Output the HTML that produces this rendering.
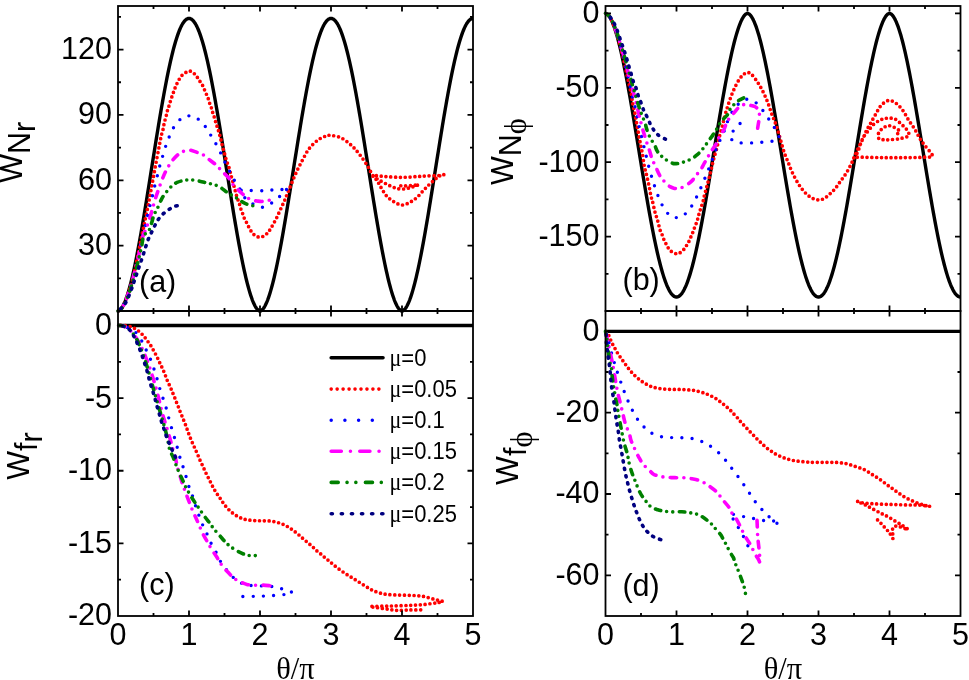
<!DOCTYPE html>
<html><head><meta charset="utf-8"><style>
html,body{margin:0;padding:0;background:#fff;width:969px;height:680px;overflow:hidden}
svg{display:block;font-family:"Liberation Sans",sans-serif;will-change:transform}
</style></head><body>
<svg width="969" height="680" viewBox="0 0 969 680" font-family="Liberation Sans, sans-serif" font-size="30.5">
<rect width="969" height="680" fill="#fff"/>
<defs><clipPath id="ca"><rect x="118" y="6" width="355" height="305"/></clipPath><clipPath id="cb"><rect x="605.5" y="6" width="355" height="305"/></clipPath></defs>
<path d="M118,311 L118.71,310.86 L119.42,310.5 L120.13,309.94 L120.84,309.2 L121.55,308.29 L122.26,307.22 L122.97,305.98 L123.68,304.59 L124.39,303.05 L125.1,301.37 L125.81,299.54 L126.52,297.57 L127.23,295.47 L127.94,293.24 L128.65,290.88 L129.36,288.39 L130.07,285.79 L130.78,283.07 L131.49,280.23 L132.2,277.29 L132.91,274.23 L133.62,271.08 L134.33,267.83 L135.04,264.48 L135.75,261.03 L136.46,257.5 L137.17,253.89 L137.88,250.19 L138.59,246.42 L139.3,242.58 L140.01,238.66 L140.72,234.68 L141.43,230.64 L142.14,226.54 L142.85,222.38 L143.56,218.18 L144.27,213.93 L144.98,209.64 L145.69,205.31 L146.4,200.94 L147.11,196.55 L147.82,192.14 L148.53,187.7 L149.24,183.24 L149.95,178.77 L150.66,174.29 L151.37,169.81 L152.08,165.32 L152.79,160.84 L153.5,156.37 L154.21,151.9 L154.92,147.46 L155.63,143.03 L156.34,138.62 L157.05,134.25 L157.76,129.9 L158.47,125.59 L159.18,121.31 L159.89,117.08 L160.6,112.9 L161.31,108.76 L162.02,104.68 L162.73,100.66 L163.44,96.7 L164.15,92.8 L164.86,88.97 L165.57,85.21 L166.28,81.53 L166.99,77.92 L167.7,74.39 L168.41,70.95 L169.12,67.6 L169.83,64.33 L170.54,61.16 L171.25,58.08 L171.96,55.1 L172.67,52.23 L173.38,49.45 L174.09,46.78 L174.8,44.22 L175.51,41.77 L176.22,39.44 L176.93,37.21 L177.64,35.11 L178.35,33.12 L179.06,31.25 L179.77,29.51 L180.48,27.88 L181.19,26.38 L181.9,25.01 L182.61,23.77 L183.32,22.65 L184.03,21.66 L184.74,20.8 L185.45,20.08 L186.16,19.48 L186.87,19.02 L187.58,18.68 L188.29,18.48 L189,18.42 L189.71,18.48 L190.42,18.68 L191.13,19.02 L191.84,19.48 L192.55,20.08 L193.26,20.8 L193.97,21.66 L194.68,22.65 L195.39,23.77 L196.1,25.01 L196.81,26.38 L197.52,27.88 L198.23,29.51 L198.94,31.25 L199.65,33.12 L200.36,35.11 L201.07,37.21 L201.78,39.44 L202.49,41.77 L203.2,44.22 L203.91,46.78 L204.62,49.45 L205.33,52.23 L206.04,55.1 L206.75,58.08 L207.46,61.16 L208.17,64.33 L208.88,67.6 L209.59,70.95 L210.3,74.39 L211.01,77.92 L211.72,81.53 L212.43,85.21 L213.14,88.97 L213.85,92.8 L214.56,96.7 L215.27,100.66 L215.98,104.68 L216.69,108.76 L217.4,112.9 L218.11,117.08 L218.82,121.31 L219.53,125.59 L220.24,129.9 L220.95,134.25 L221.66,138.62 L222.37,143.03 L223.08,147.46 L223.79,151.9 L224.5,156.37 L225.21,160.84 L225.92,165.32 L226.63,169.81 L227.34,174.29 L228.05,178.77 L228.76,183.24 L229.47,187.7 L230.18,192.14 L230.89,196.55 L231.6,200.94 L232.31,205.31 L233.02,209.64 L233.73,213.93 L234.44,218.18 L235.15,222.38 L235.86,226.54 L236.57,230.64 L237.28,234.68 L237.99,238.66 L238.7,242.58 L239.41,246.42 L240.12,250.19 L240.83,253.89 L241.54,257.5 L242.25,261.03 L242.96,264.48 L243.67,267.83 L244.38,271.08 L245.09,274.23 L245.8,277.29 L246.51,280.23 L247.22,283.07 L247.93,285.79 L248.64,288.39 L249.35,290.88 L250.06,293.24 L250.77,295.47 L251.48,297.57 L252.19,299.54 L252.9,301.37 L253.61,303.05 L254.32,304.59 L255.03,305.98 L255.74,307.22 L256.45,308.29 L257.16,309.2 L257.87,309.94 L258.58,310.5 L259.29,310.86 L260,311 L260.71,310.86 L261.42,310.5 L262.13,309.94 L262.84,309.2 L263.55,308.29 L264.26,307.22 L264.97,305.98 L265.68,304.59 L266.39,303.05 L267.1,301.37 L267.81,299.54 L268.52,297.57 L269.23,295.47 L269.94,293.24 L270.65,290.88 L271.36,288.39 L272.07,285.79 L272.78,283.07 L273.49,280.23 L274.2,277.29 L274.91,274.23 L275.62,271.08 L276.33,267.83 L277.04,264.48 L277.75,261.03 L278.46,257.5 L279.17,253.89 L279.88,250.19 L280.59,246.42 L281.3,242.58 L282.01,238.66 L282.72,234.68 L283.43,230.64 L284.14,226.54 L284.85,222.38 L285.56,218.18 L286.27,213.93 L286.98,209.64 L287.69,205.31 L288.4,200.94 L289.11,196.55 L289.82,192.14 L290.53,187.7 L291.24,183.24 L291.95,178.77 L292.66,174.29 L293.37,169.81 L294.08,165.32 L294.79,160.84 L295.5,156.37 L296.21,151.9 L296.92,147.46 L297.63,143.03 L298.34,138.62 L299.05,134.25 L299.76,129.9 L300.47,125.59 L301.18,121.31 L301.89,117.08 L302.6,112.9 L303.31,108.76 L304.02,104.68 L304.73,100.66 L305.44,96.7 L306.15,92.8 L306.86,88.97 L307.57,85.21 L308.28,81.53 L308.99,77.92 L309.7,74.39 L310.41,70.95 L311.12,67.6 L311.83,64.33 L312.54,61.16 L313.25,58.08 L313.96,55.1 L314.67,52.23 L315.38,49.45 L316.09,46.78 L316.8,44.22 L317.51,41.77 L318.22,39.44 L318.93,37.21 L319.64,35.11 L320.35,33.12 L321.06,31.25 L321.77,29.51 L322.48,27.88 L323.19,26.38 L323.9,25.01 L324.61,23.77 L325.32,22.65 L326.03,21.66 L326.74,20.8 L327.45,20.08 L328.16,19.48 L328.87,19.02 L329.58,18.68 L330.29,18.48 L331,18.42 L331.71,18.48 L332.42,18.68 L333.13,19.02 L333.84,19.48 L334.55,20.08 L335.26,20.8 L335.97,21.66 L336.68,22.65 L337.39,23.77 L338.1,25.01 L338.81,26.38 L339.52,27.88 L340.23,29.51 L340.94,31.25 L341.65,33.12 L342.36,35.11 L343.07,37.21 L343.78,39.44 L344.49,41.77 L345.2,44.22 L345.91,46.78 L346.62,49.45 L347.33,52.23 L348.04,55.1 L348.75,58.08 L349.46,61.16 L350.17,64.33 L350.88,67.6 L351.59,70.95 L352.3,74.39 L353.01,77.92 L353.72,81.53 L354.43,85.21 L355.14,88.97 L355.85,92.8 L356.56,96.7 L357.27,100.66 L357.98,104.68 L358.69,108.76 L359.4,112.9 L360.11,117.08 L360.82,121.31 L361.53,125.59 L362.24,129.9 L362.95,134.25 L363.66,138.62 L364.37,143.03 L365.08,147.46 L365.79,151.9 L366.5,156.37 L367.21,160.84 L367.92,165.32 L368.63,169.81 L369.34,174.29 L370.05,178.77 L370.76,183.24 L371.47,187.7 L372.18,192.14 L372.89,196.55 L373.6,200.94 L374.31,205.31 L375.02,209.64 L375.73,213.93 L376.44,218.18 L377.15,222.38 L377.86,226.54 L378.57,230.64 L379.28,234.68 L379.99,238.66 L380.7,242.58 L381.41,246.42 L382.12,250.19 L382.83,253.89 L383.54,257.5 L384.25,261.03 L384.96,264.48 L385.67,267.83 L386.38,271.08 L387.09,274.23 L387.8,277.29 L388.51,280.23 L389.22,283.07 L389.93,285.79 L390.64,288.39 L391.35,290.88 L392.06,293.24 L392.77,295.47 L393.48,297.57 L394.19,299.54 L394.9,301.37 L395.61,303.05 L396.32,304.59 L397.03,305.98 L397.74,307.22 L398.45,308.29 L399.16,309.2 L399.87,309.94 L400.58,310.5 L401.29,310.86 L402,311 L402.71,310.86 L403.42,310.5 L404.13,309.94 L404.84,309.2 L405.55,308.29 L406.26,307.22 L406.97,305.98 L407.68,304.59 L408.39,303.05 L409.1,301.37 L409.81,299.54 L410.52,297.57 L411.23,295.47 L411.94,293.24 L412.65,290.88 L413.36,288.39 L414.07,285.79 L414.78,283.07 L415.49,280.23 L416.2,277.29 L416.91,274.23 L417.62,271.08 L418.33,267.83 L419.04,264.48 L419.75,261.03 L420.46,257.5 L421.17,253.89 L421.88,250.19 L422.59,246.42 L423.3,242.58 L424.01,238.66 L424.72,234.68 L425.43,230.64 L426.14,226.54 L426.85,222.38 L427.56,218.18 L428.27,213.93 L428.98,209.64 L429.69,205.31 L430.4,200.94 L431.11,196.55 L431.82,192.14 L432.53,187.7 L433.24,183.24 L433.95,178.77 L434.66,174.29 L435.37,169.81 L436.08,165.32 L436.79,160.84 L437.5,156.37 L438.21,151.9 L438.92,147.46 L439.63,143.03 L440.34,138.62 L441.05,134.25 L441.76,129.9 L442.47,125.59 L443.18,121.31 L443.89,117.08 L444.6,112.9 L445.31,108.76 L446.02,104.68 L446.73,100.66 L447.44,96.7 L448.15,92.8 L448.86,88.97 L449.57,85.21 L450.28,81.53 L450.99,77.92 L451.7,74.39 L452.41,70.95 L453.12,67.6 L453.83,64.33 L454.54,61.16 L455.25,58.08 L455.96,55.1 L456.67,52.23 L457.38,49.45 L458.09,46.78 L458.8,44.22 L459.51,41.77 L460.22,39.44 L460.93,37.21 L461.64,35.11 L462.35,33.12 L463.06,31.25 L463.77,29.51 L464.48,27.88 L465.19,26.38 L465.9,25.01 L466.61,23.77 L467.32,22.65 L468.03,21.66 L468.74,20.8 L469.45,20.08 L470.16,19.48 L470.87,19.02 L471.58,18.68 L472.29,18.48 L473,18.42" stroke="#000" stroke-width="3.4" fill="none" stroke-linejoin="round"/>
<path d="M118,311 C118.51,310.67 120.11,310 121.04,309 C121.97,308 122.71,306.67 123.57,305 C124.42,303.33 125.29,301.33 126.18,299 C127.07,296.67 127.91,294 128.9,291 C129.89,288 131.16,284.5 132.14,281 C133.12,277.5 133.93,273.83 134.79,270 C135.66,266.17 136.51,262 137.33,258 C138.16,254 138.95,250 139.77,246 C140.59,242 141.42,238 142.24,234 C143.06,230 143.86,226 144.69,222 C145.51,218 146.4,214 147.21,210 C148.02,206 148.79,202 149.54,198 C150.3,194 151.02,190 151.76,186 C152.49,182 153.22,178 153.96,174 C154.69,170 155.41,166 156.16,162 C156.91,158 157.88,153 158.46,150 C159.04,147 159.28,145.87 159.63,144 C159.99,142.13 160.29,140.35 160.6,138.8 C160.91,137.25 161.12,136.17 161.5,134.7 C161.88,133.23 162.5,131.67 162.9,130 C163.3,128.33 163.53,126.4 163.9,124.7 C164.27,123 164.67,121.47 165.1,119.8 C165.53,118.13 166.08,116.33 166.5,114.7 C166.92,113.07 167.15,111.57 167.6,110 C168.05,108.43 168.7,106.87 169.2,105.3 C169.7,103.73 170.07,102.27 170.6,100.6 C171.13,98.93 171.82,96.97 172.4,95.3 C172.98,93.63 173.52,92.17 174.1,90.6 C174.68,89.03 175.25,87.42 175.9,85.9 C176.55,84.38 177.25,82.92 178,81.5 C178.75,80.08 179.52,78.63 180.4,77.4 C181.28,76.17 182.18,75.03 183.3,74.1 C184.42,73.17 186.07,72.27 187.1,71.8 C188.13,71.33 188.72,71.33 189.5,71.3 C190.28,71.27 190.78,70.98 191.8,71.6 C192.82,72.22 194.55,73.85 195.6,75 C196.65,76.15 197.27,77.27 198.1,78.5 C198.93,79.73 199.8,81.15 200.6,82.4 C201.4,83.65 202.22,84.68 202.9,86 C203.58,87.32 204.1,88.9 204.7,90.3 C205.3,91.7 205.88,92.93 206.5,94.4 C207.12,95.87 207.83,97.5 208.4,99.1 C208.97,100.7 209.37,102.45 209.9,104 C210.43,105.55 211.12,106.93 211.6,108.4 C212.08,109.87 212.35,111.33 212.8,112.8 C213.25,114.27 213.82,115.65 214.3,117.2 C214.78,118.75 215.22,120.5 215.7,122.1 C216.18,123.7 216.7,125.23 217.2,126.8 C217.7,128.37 218.22,129.87 218.7,131.5 C219.18,133.13 219.67,134.93 220.1,136.6 C220.53,138.27 220.88,139.83 221.3,141.5 C221.72,143.17 222.13,144.88 222.6,146.6 C223.07,148.32 223.65,150.15 224.1,151.8 C224.55,153.45 224.87,154.93 225.3,156.5 C225.73,158.07 226.17,159.63 226.7,161.2 C227.23,162.77 227.95,164.23 228.5,165.9 C229.05,167.57 229.58,169.63 230,171.2 C230.42,172.77 230.6,173.83 231,175.3 C231.4,176.77 231.93,178.33 232.4,180 C232.87,181.67 233.38,183.73 233.8,185.3 C234.22,186.87 234.52,187.93 234.9,189.4 C235.28,190.87 235.65,192.53 236.1,194.1 C236.55,195.67 237.07,197.23 237.6,198.8 C238.13,200.37 238.77,201.83 239.3,203.5 C239.83,205.17 240.25,207.13 240.8,208.8 C241.35,210.47 242.07,212.03 242.6,213.5 C243.13,214.97 243.45,216.32 244,217.6 C244.55,218.88 245.25,219.92 245.9,221.2 C246.55,222.48 247.18,223.9 247.9,225.3 C248.62,226.7 249.42,228.28 250.2,229.6 C250.98,230.92 251.67,232.15 252.6,233.2 C253.53,234.25 254.53,235.22 255.8,235.9 C257.07,236.58 258.68,237.4 260.2,237.3 C261.72,237.2 263.62,236.12 264.9,235.3 C266.18,234.48 267.02,233.38 267.9,232.4 C268.78,231.42 269.3,230.8 270.2,229.4 C271.1,228 272.28,225.82 273.3,224 C274.32,222.18 275.3,220.5 276.3,218.5 C277.3,216.5 278.3,214.17 279.3,212 C280.3,209.83 281.35,207.58 282.3,205.5 C283.25,203.42 284.12,201.58 285,199.5 C285.88,197.42 286.6,195.43 287.6,193 C288.6,190.57 289.57,188.32 291,184.9 C292.43,181.48 294.3,176.62 296.2,172.5 C298.1,168.38 300.27,164.15 302.4,160.2 C304.53,156.25 306.43,152.15 309,148.8 C311.57,145.45 314.97,142.23 317.8,140.1 C320.63,137.97 323.77,136.78 326,136 C328.23,135.22 328.62,135.07 331.2,135.4 C333.78,135.73 338.07,136.28 341.5,138 C344.93,139.72 348.72,142.87 351.8,145.7 C354.88,148.53 357.33,151.57 360,155 C362.67,158.43 365.77,163.05 367.8,166.3 C369.83,169.55 370.63,172.07 372.2,174.5 C373.77,176.93 375.65,178.6 377.2,180.9 C378.75,183.2 379.97,185.83 381.5,188.3 C383.03,190.77 384.45,193.53 386.4,195.7 C388.35,197.87 390.62,199.75 393.2,201.3 C395.78,202.85 399,204.9 401.9,205 C404.8,205.1 408.02,203.23 410.6,201.9 C413.18,200.57 415.23,198.95 417.4,197 C419.57,195.05 421.63,192.27 423.6,190.2 C425.57,188.13 427.23,186.47 429.2,184.6 C431.17,182.73 433.68,180.45 435.4,179 C437.12,177.55 438.07,176.62 439.5,175.9 C440.93,175.18 444.08,174.77 444,174.7 C443.92,174.63 441.78,175.3 439,175.5 C436.22,175.7 430.8,175.73 427.3,175.9 C423.8,176.07 421.4,176.28 418,176.5 C414.6,176.72 410.62,177.08 406.9,177.2 C403.18,177.32 399.42,177.32 395.7,177.2 C391.98,177.08 387.88,176.77 384.6,176.5 C381.32,176.23 378.02,175.72 376,175.6 C373.98,175.48 372.1,175.13 372.5,175.8 C372.9,176.47 376.08,178.23 378.4,179.6 C380.72,180.97 383.72,182.65 386.4,184 C389.08,185.35 392.33,186.88 394.5,187.7 C396.67,188.52 397.65,188.7 399.4,188.9 C401.15,189.1 403.23,189.1 405,188.9 C406.77,188.7 408.45,188.12 410,187.7 C411.55,187.28 412.87,186.92 414.3,186.4 C415.73,185.88 418.65,184.78 418.6,184.6 C418.55,184.42 416.27,185.1 414,185.3 C411.73,185.5 408,185.75 405,185.8 C402,185.85 397.5,185.63 396,185.6" stroke="#ff0000" stroke-width="3.7" fill="none" stroke-linecap="round" stroke-dasharray="0 4.8" stroke-dashoffset="3.35"/>
<path d="M118,311 C118.51,310.67 120.12,310 121.06,309 C122,308 122.75,306.67 123.62,305 C124.5,303.33 125.38,301.33 126.29,299 C127.21,296.67 128.12,294 129.09,291 C130.06,288 131.12,284.5 132.12,281 C133.11,277.5 134.09,273.83 135.06,270 C136.03,266.17 137,262 137.92,258 C138.84,254 139.79,249.67 140.58,246 C141.38,242.33 141.9,239.32 142.69,236 C143.47,232.68 144.53,229.3 145.3,226.1 C146.07,222.9 146.6,219.9 147.3,216.8 C148,213.7 148.73,210.58 149.5,207.5 C150.27,204.42 151.17,201.33 151.9,198.3 C152.63,195.27 153.05,192.83 153.9,189.3 C154.75,185.77 156.12,180.68 157,177.1 C157.88,173.52 158.43,170.67 159.2,167.8 C159.97,164.93 160.65,163.1 161.6,159.9 C162.55,156.7 163.87,151.83 164.9,148.6 C165.93,145.37 166.7,143.35 167.8,140.5 C168.9,137.65 170.15,134.23 171.5,131.5 C172.85,128.77 174,126.5 175.9,124.1 C177.8,121.7 180.8,118.47 182.9,117.1 C185,115.73 186.67,116 188.5,115.9 C190.33,115.8 191.63,115.42 193.9,116.5 C196.17,117.58 199.77,120.03 202.1,122.4 C204.43,124.77 206.23,128.2 207.9,130.7 C209.57,133.2 210.67,135.03 212.1,137.4 C213.53,139.77 214.98,142.13 216.5,144.9 C218.02,147.67 219.72,150.95 221.2,154 C222.68,157.05 223.9,160.13 225.4,163.2 C226.9,166.27 228.57,169.3 230.2,172.4 C231.83,175.5 233.43,178.8 235.2,181.8 C236.97,184.8 238.98,187.47 240.8,190.4 C242.62,193.33 243.73,197 246.1,199.4 C248.47,201.8 252,203.52 255,204.8 C258,206.08 261,207.65 264.1,207.1 C267.2,206.55 270.78,203.5 273.6,201.5 C276.42,199.5 279.1,197.02 281,195.1 C282.9,193.18 283.6,190.95 285,190 C286.4,189.05 290.07,189.47 289.4,189.4 C288.73,189.33 283.9,189.5 281,189.6 C278.1,189.7 275.33,189.8 272,190 C268.67,190.2 265.07,190.73 261,190.8 C256.93,190.87 250.93,190.48 247.6,190.4 C244.27,190.32 242.1,190.32 241,190.3" stroke="#0000ff" stroke-width="3.4" fill="none" stroke-linecap="round" stroke-dasharray="0 10.2" stroke-dashoffset="0.82"/>
<path d="M118,311 C118.51,310.67 120.14,310 121.09,309 C122.04,308 122.81,306.67 123.71,305 C124.6,303.33 125.52,301.33 126.47,299 C127.41,296.67 128.4,294 129.38,291 C130.35,288 131.35,284.5 132.31,281 C133.28,277.5 134.2,273.83 135.16,270 C136.12,266.17 137.12,262 138.06,258 C139,254 139.98,249.67 140.8,246 C141.62,242.33 142.09,239 142.99,236 C143.89,233 145.2,230.53 146.2,228 C147.2,225.47 148.08,223.55 149,220.8 C149.92,218.05 150.72,214.93 151.7,211.5 C152.68,208.07 153.8,203.77 154.9,200.2 C156,196.63 157.08,193.57 158.3,190.1 C159.52,186.63 160.83,182.78 162.2,179.4 C163.57,176.02 164.75,173 166.5,169.8 C168.25,166.6 170.5,162.97 172.7,160.2 C174.9,157.43 177.57,154.77 179.7,153.2 C181.83,151.63 183.7,151.28 185.5,150.8 C187.3,150.32 188.65,150.07 190.5,150.3 C192.35,150.53 194.6,151.52 196.6,152.2 C198.6,152.88 200.67,153.37 202.5,154.4 C204.33,155.43 205.63,156.88 207.6,158.4 C209.57,159.92 212.48,161.98 214.3,163.5 C216.12,165.02 217.22,166.22 218.5,167.5 C219.78,168.78 220.33,169.52 222,171.2 C223.67,172.88 226.93,175.73 228.5,177.6 C230.07,179.47 230.33,180.92 231.4,182.4 C232.47,183.88 233.13,184.65 234.9,186.5 C236.67,188.35 240.13,191.8 242,193.5 C243.87,195.2 244.53,195.62 246.1,196.7 C247.67,197.78 249.58,199.28 251.4,200 C253.22,200.72 255.13,200.77 257,201 C258.87,201.23 260.5,201.53 262.6,201.4 C264.7,201.27 268.43,200.4 269.6,200.2" stroke="#ff00ff" stroke-width="3.6" fill="none" stroke-linecap="round" stroke-dasharray="6.5 7 0 7.5" stroke-dashoffset="5.36"/>
<path d="M118,311 C118.52,310.67 120.16,310 121.14,309 C122.11,308 122.92,306.67 123.85,305 C124.79,303.33 125.77,301.33 126.76,299 C127.75,296.67 128.76,294 129.78,291 C130.8,288 131.86,284.5 132.88,281 C133.9,277.5 134.89,273.83 135.9,270 C136.91,266.17 137.95,262 138.92,258 C139.88,254 140.87,249.67 141.68,246 C142.49,242.33 142.48,238.75 143.79,236 C145.09,233.25 148.18,231.7 149.5,229.5 C150.82,227.3 150.97,225.18 151.7,222.8 C152.43,220.42 152.93,217.63 153.9,215.2 C154.87,212.77 156.28,210.75 157.5,208.2 C158.72,205.65 160.15,202.03 161.2,199.9 C162.25,197.77 162.37,197.38 163.8,195.4 C165.23,193.42 168.18,189.77 169.8,188 C171.42,186.23 172.28,185.73 173.5,184.8 C174.72,183.87 175.35,183.13 177.1,182.4 C178.85,181.67 181.68,180.83 184,180.4 C186.32,179.97 188.4,179.67 191,179.8 C193.6,179.93 196.93,180.67 199.6,181.2 C202.27,181.73 204.57,182.43 207,183 C209.43,183.57 212.37,184.05 214.2,184.6 C216.03,185.15 216.7,185.67 218,186.3 C219.3,186.93 220.75,187.58 222,188.4 C223.25,189.22 224.17,190.25 225.5,191.2 C226.83,192.15 228.33,193.07 230,194.1 C231.67,195.13 233.8,196.32 235.5,197.4 C237.2,198.48 238.33,199.48 240.2,200.6 C242.07,201.72 244.53,203.22 246.7,204.1 C248.87,204.98 252.12,205.6 253.2,205.9" stroke="#008000" stroke-width="3.6" fill="none" stroke-linecap="round" stroke-dasharray="5.5 6 0 6 0 6.5" stroke-dashoffset="0.3"/>
<path d="M118,311 C118.52,310.55 120.07,309.27 121.1,308.3 C122.13,307.33 123.17,306.68 124.2,305.2 C125.23,303.72 126.2,301.77 127.3,299.4 C128.4,297.03 129.82,293.57 130.8,291 C131.78,288.43 132.38,286.35 133.2,284 C134.02,281.65 134.82,279.48 135.7,276.9 C136.58,274.32 137.6,271.15 138.5,268.5 C139.4,265.85 140.25,263.5 141.1,261 C141.95,258.5 142.8,255.97 143.6,253.5 C144.4,251.03 145.07,248.7 145.9,246.2 C146.73,243.7 147.57,241 148.6,238.5 C149.63,236 150.93,233.6 152.1,231.2 C153.27,228.8 154.42,226.27 155.6,224.1 C156.78,221.93 157.82,220.02 159.2,218.2 C160.58,216.38 162.13,214.75 163.9,213.2 C165.67,211.65 168.12,210 169.8,208.9 C171.48,207.8 172.68,207.15 174,206.6 C175.32,206.05 177.08,205.77 177.7,205.6" stroke="#000080" stroke-width="3.6" fill="none" stroke-linecap="round" stroke-dasharray="1.2 6.3" stroke-dashoffset="4.12"/>
<path d="M605.5,13.44 L606.21,13.58 L606.92,13.93 L607.63,14.46 L608.34,15.18 L609.05,16.06 L609.76,17.1 L610.47,18.3 L611.18,19.65 L611.89,21.14 L612.6,22.78 L613.31,24.55 L614.02,26.46 L614.73,28.49 L615.44,30.66 L616.15,32.94 L616.86,35.35 L617.57,37.88 L618.28,40.51 L618.99,43.26 L619.7,46.12 L620.41,49.07 L621.12,52.13 L621.83,55.28 L622.54,58.53 L623.25,61.87 L623.96,65.29 L624.67,68.79 L625.38,72.37 L626.09,76.03 L626.8,79.76 L627.51,83.55 L628.22,87.41 L628.93,91.33 L629.64,95.3 L630.35,99.33 L631.06,103.4 L631.77,107.52 L632.48,111.68 L633.19,115.88 L633.9,120.11 L634.61,124.36 L635.32,128.64 L636.03,132.95 L636.74,137.27 L637.45,141.6 L638.16,145.94 L638.87,150.28 L639.58,154.63 L640.29,158.97 L641,163.31 L641.71,167.64 L642.42,171.95 L643.13,176.24 L643.84,180.51 L644.55,184.75 L645.26,188.97 L645.97,193.15 L646.68,197.29 L647.39,201.39 L648.1,205.44 L648.81,209.45 L649.52,213.41 L650.23,217.3 L650.94,221.15 L651.65,224.92 L652.36,228.64 L653.07,232.28 L653.78,235.85 L654.49,239.35 L655.2,242.76 L655.91,246.1 L656.62,249.35 L657.33,252.52 L658.04,255.59 L658.75,258.57 L659.46,261.46 L660.17,264.25 L660.88,266.94 L661.59,269.52 L662.3,272 L663.01,274.38 L663.72,276.64 L664.43,278.8 L665.14,280.84 L665.85,282.77 L666.56,284.58 L667.27,286.27 L667.98,287.84 L668.69,289.29 L669.4,290.62 L670.11,291.83 L670.82,292.91 L671.53,293.87 L672.24,294.7 L672.95,295.41 L673.66,295.99 L674.37,296.44 L675.08,296.76 L675.79,296.95 L676.5,297.01 L677.21,296.95 L677.92,296.76 L678.63,296.44 L679.34,295.99 L680.05,295.41 L680.76,294.7 L681.47,293.87 L682.18,292.91 L682.89,291.83 L683.6,290.62 L684.31,289.29 L685.02,287.84 L685.73,286.27 L686.44,284.58 L687.15,282.77 L687.86,280.84 L688.57,278.8 L689.28,276.64 L689.99,274.38 L690.7,272 L691.41,269.52 L692.12,266.94 L692.83,264.25 L693.54,261.46 L694.25,258.57 L694.96,255.59 L695.67,252.52 L696.38,249.35 L697.09,246.1 L697.8,242.76 L698.51,239.35 L699.22,235.85 L699.93,232.28 L700.64,228.64 L701.35,224.92 L702.06,221.15 L702.77,217.3 L703.48,213.41 L704.19,209.45 L704.9,205.44 L705.61,201.39 L706.32,197.29 L707.03,193.15 L707.74,188.97 L708.45,184.75 L709.16,180.51 L709.87,176.24 L710.58,171.95 L711.29,167.64 L712,163.31 L712.71,158.97 L713.42,154.63 L714.13,150.28 L714.84,145.94 L715.55,141.6 L716.26,137.27 L716.97,132.95 L717.68,128.64 L718.39,124.36 L719.1,120.11 L719.81,115.88 L720.52,111.68 L721.23,107.52 L721.94,103.4 L722.65,99.33 L723.36,95.3 L724.07,91.33 L724.78,87.41 L725.49,83.55 L726.2,79.76 L726.91,76.03 L727.62,72.37 L728.33,68.79 L729.04,65.29 L729.75,61.87 L730.46,58.53 L731.17,55.28 L731.88,52.13 L732.59,49.07 L733.3,46.12 L734.01,43.26 L734.72,40.51 L735.43,37.88 L736.14,35.35 L736.85,32.94 L737.56,30.66 L738.27,28.49 L738.98,26.46 L739.69,24.55 L740.4,22.78 L741.11,21.14 L741.82,19.65 L742.53,18.3 L743.24,17.1 L743.95,16.06 L744.66,15.18 L745.37,14.46 L746.08,13.93 L746.79,13.58 L747.5,13.44 L748.21,13.58 L748.92,13.93 L749.63,14.46 L750.34,15.18 L751.05,16.06 L751.76,17.1 L752.47,18.3 L753.18,19.65 L753.89,21.14 L754.6,22.78 L755.31,24.55 L756.02,26.46 L756.73,28.49 L757.44,30.66 L758.15,32.94 L758.86,35.35 L759.57,37.88 L760.28,40.51 L760.99,43.26 L761.7,46.12 L762.41,49.07 L763.12,52.13 L763.83,55.28 L764.54,58.53 L765.25,61.87 L765.96,65.29 L766.67,68.79 L767.38,72.37 L768.09,76.03 L768.8,79.76 L769.51,83.55 L770.22,87.41 L770.93,91.33 L771.64,95.3 L772.35,99.33 L773.06,103.4 L773.77,107.52 L774.48,111.68 L775.19,115.88 L775.9,120.11 L776.61,124.36 L777.32,128.64 L778.03,132.95 L778.74,137.27 L779.45,141.6 L780.16,145.94 L780.87,150.28 L781.58,154.63 L782.29,158.97 L783,163.31 L783.71,167.64 L784.42,171.95 L785.13,176.24 L785.84,180.51 L786.55,184.75 L787.26,188.97 L787.97,193.15 L788.68,197.29 L789.39,201.39 L790.1,205.44 L790.81,209.45 L791.52,213.41 L792.23,217.3 L792.94,221.15 L793.65,224.92 L794.36,228.64 L795.07,232.28 L795.78,235.85 L796.49,239.35 L797.2,242.76 L797.91,246.1 L798.62,249.35 L799.33,252.52 L800.04,255.59 L800.75,258.57 L801.46,261.46 L802.17,264.25 L802.88,266.94 L803.59,269.52 L804.3,272 L805.01,274.38 L805.72,276.64 L806.43,278.8 L807.14,280.84 L807.85,282.77 L808.56,284.58 L809.27,286.27 L809.98,287.84 L810.69,289.29 L811.4,290.62 L812.11,291.83 L812.82,292.91 L813.53,293.87 L814.24,294.7 L814.95,295.41 L815.66,295.99 L816.37,296.44 L817.08,296.76 L817.79,296.95 L818.5,297.01 L819.21,296.95 L819.92,296.76 L820.63,296.44 L821.34,295.99 L822.05,295.41 L822.76,294.7 L823.47,293.87 L824.18,292.91 L824.89,291.83 L825.6,290.62 L826.31,289.29 L827.02,287.84 L827.73,286.27 L828.44,284.58 L829.15,282.77 L829.86,280.84 L830.57,278.8 L831.28,276.64 L831.99,274.38 L832.7,272 L833.41,269.52 L834.12,266.94 L834.83,264.25 L835.54,261.46 L836.25,258.57 L836.96,255.59 L837.67,252.52 L838.38,249.35 L839.09,246.1 L839.8,242.76 L840.51,239.35 L841.22,235.85 L841.93,232.28 L842.64,228.64 L843.35,224.92 L844.06,221.15 L844.77,217.3 L845.48,213.41 L846.19,209.45 L846.9,205.44 L847.61,201.39 L848.32,197.29 L849.03,193.15 L849.74,188.97 L850.45,184.75 L851.16,180.51 L851.87,176.24 L852.58,171.95 L853.29,167.64 L854,163.31 L854.71,158.97 L855.42,154.63 L856.13,150.28 L856.84,145.94 L857.55,141.6 L858.26,137.27 L858.97,132.95 L859.68,128.64 L860.39,124.36 L861.1,120.11 L861.81,115.88 L862.52,111.68 L863.23,107.52 L863.94,103.4 L864.65,99.33 L865.36,95.3 L866.07,91.33 L866.78,87.41 L867.49,83.55 L868.2,79.76 L868.91,76.03 L869.62,72.37 L870.33,68.79 L871.04,65.29 L871.75,61.87 L872.46,58.53 L873.17,55.28 L873.88,52.13 L874.59,49.07 L875.3,46.12 L876.01,43.26 L876.72,40.51 L877.43,37.88 L878.14,35.35 L878.85,32.94 L879.56,30.66 L880.27,28.49 L880.98,26.46 L881.69,24.55 L882.4,22.78 L883.11,21.14 L883.82,19.65 L884.53,18.3 L885.24,17.1 L885.95,16.06 L886.66,15.18 L887.37,14.46 L888.08,13.93 L888.79,13.58 L889.5,13.44 L890.21,13.58 L890.92,13.93 L891.63,14.46 L892.34,15.18 L893.05,16.06 L893.76,17.1 L894.47,18.3 L895.18,19.65 L895.89,21.14 L896.6,22.78 L897.31,24.55 L898.02,26.46 L898.73,28.49 L899.44,30.66 L900.15,32.94 L900.86,35.35 L901.57,37.88 L902.28,40.51 L902.99,43.26 L903.7,46.12 L904.41,49.07 L905.12,52.13 L905.83,55.28 L906.54,58.53 L907.25,61.87 L907.96,65.29 L908.67,68.79 L909.38,72.37 L910.09,76.03 L910.8,79.76 L911.51,83.55 L912.22,87.41 L912.93,91.33 L913.64,95.3 L914.35,99.33 L915.06,103.4 L915.77,107.52 L916.48,111.68 L917.19,115.88 L917.9,120.11 L918.61,124.36 L919.32,128.64 L920.03,132.95 L920.74,137.27 L921.45,141.6 L922.16,145.94 L922.87,150.28 L923.58,154.63 L924.29,158.97 L925,163.31 L925.71,167.64 L926.42,171.95 L927.13,176.24 L927.84,180.51 L928.55,184.75 L929.26,188.97 L929.97,193.15 L930.68,197.29 L931.39,201.39 L932.1,205.44 L932.81,209.45 L933.52,213.41 L934.23,217.3 L934.94,221.15 L935.65,224.92 L936.36,228.64 L937.07,232.28 L937.78,235.85 L938.49,239.35 L939.2,242.76 L939.91,246.1 L940.62,249.35 L941.33,252.52 L942.04,255.59 L942.75,258.57 L943.46,261.46 L944.17,264.25 L944.88,266.94 L945.59,269.52 L946.3,272 L947.01,274.38 L947.72,276.64 L948.43,278.8 L949.14,280.84 L949.85,282.77 L950.56,284.58 L951.27,286.27 L951.98,287.84 L952.69,289.29 L953.4,290.62 L954.11,291.83 L954.82,292.91 L955.53,293.87 L956.24,294.7 L956.95,295.41 L957.66,295.99 L958.37,296.44 L959.08,296.76 L959.79,296.95 L960.5,297.01" stroke="#000" stroke-width="3.4" fill="none" stroke-linejoin="round"/>
<path d="M605.5,13.4 C606.09,13.83 608.06,14.9 609.05,16 C610.04,17.1 610.67,18.5 611.44,20 C612.2,21.5 612.96,23.33 613.63,25 C614.3,26.67 614.64,27.5 615.46,30 C616.28,32.5 617.59,36.67 618.56,40 C619.52,43.33 620.39,46.67 621.25,50 C622.11,53.33 622.91,56.67 623.7,60 C624.49,63.33 625.25,66.67 626,70 C626.75,73.33 627.3,75.93 628.19,80 C629.07,84.07 630.53,90.38 631.3,94.4 C632.07,98.42 632.18,100.87 632.8,104.1 C633.42,107.33 634.33,110.42 635,113.8 C635.67,117.18 636.17,120.87 636.8,124.4 C637.43,127.93 638.17,131.62 638.8,135 C639.43,138.38 640.02,141.7 640.6,144.7 C641.18,147.7 641.68,149.47 642.3,153 C642.92,156.53 643.57,162.13 644.3,165.9 C645.03,169.67 645.9,172.22 646.7,175.6 C647.5,178.98 648.4,182.82 649.1,186.2 C649.8,189.58 650.33,193.38 650.9,195.9 C651.47,198.42 651.87,198.78 652.5,201.3 C653.13,203.82 654.07,208.5 654.7,211 C655.33,213.5 655.78,214.6 656.3,216.3 C656.82,218 657.15,218.85 657.8,221.2 C658.45,223.55 659.47,228.12 660.2,230.4 C660.93,232.68 661.6,233.42 662.2,234.9 C662.8,236.38 663.22,237.92 663.8,239.3 C664.38,240.68 664.98,241.8 665.7,243.2 C666.42,244.6 667.22,246.37 668.1,247.7 C668.98,249.03 669.88,250.25 671,251.2 C672.12,252.15 673.75,253 674.8,253.4 C675.85,253.8 676.48,253.67 677.3,253.6 C678.12,253.53 678.73,253.55 679.7,253 C680.67,252.45 682.12,251.33 683.1,250.3 C684.08,249.27 684.77,248 685.6,246.8 C686.43,245.6 687.37,244.43 688.1,243.1 C688.83,241.77 689.35,240.25 690,238.8 C690.65,237.35 691.42,235.8 692,234.4 C692.58,233 692.95,231.87 693.5,230.4 C694.05,228.93 694.7,227.13 695.3,225.6 C695.9,224.07 696.58,222.78 697.1,221.2 C697.62,219.62 697.93,217.8 698.4,216.1 C698.87,214.4 699.38,212.65 699.9,211 C700.42,209.35 700.97,207.82 701.5,206.2 C702.03,204.58 702.63,203.03 703.1,201.3 C703.57,199.57 703.68,198.25 704.3,195.8 C704.92,193.35 705.95,189.77 706.8,186.6 C707.65,183.43 708.62,179.88 709.4,176.8 C710.18,173.72 710.73,171.27 711.5,168.1 C712.27,164.93 713.07,161.32 714,157.8 C714.93,154.28 716.22,150.43 717.1,147 C717.98,143.57 718.33,141.12 719.3,137.2 C720.27,133.28 721.9,127.35 722.9,123.5 C723.9,119.65 724.42,117.23 725.3,114.1 C726.18,110.97 727.17,107.83 728.2,104.7 C729.23,101.57 730.32,98.33 731.5,95.3 C732.68,92.27 733.97,89.22 735.3,86.5 C736.63,83.78 738.13,81 739.5,79 C740.87,77 742.25,75.55 743.5,74.5 C744.75,73.45 745.75,72.82 747,72.7 C748.25,72.58 749.42,72.48 751,73.8 C752.58,75.12 754.8,78.2 756.5,80.6 C758.2,83 759.73,85.55 761.2,88.2 C762.67,90.85 764.03,93.65 765.3,96.5 C766.57,99.35 767.72,102.37 768.8,105.3 C769.88,108.23 770.72,111.17 771.8,114.1 C772.88,117.03 774.23,119.95 775.3,122.9 C776.37,125.85 777.33,129 778.2,131.8 C779.07,134.6 779.52,136.32 780.5,139.7 C781.48,143.08 782.82,148.32 784.1,152.1 C785.38,155.88 786.82,158.97 788.2,162.4 C789.58,165.83 790.68,169.1 792.4,172.7 C794.12,176.3 796.45,180.75 798.5,184 C800.55,187.25 802.63,189.97 804.7,192.2 C806.77,194.43 808.67,196.12 810.9,197.4 C813.13,198.68 815.87,199.73 818.1,199.9 C820.33,200.07 822.23,199.5 824.3,198.4 C826.37,197.3 828.62,195.02 830.5,193.3 C832.38,191.58 833.9,190.17 835.6,188.1 C837.3,186.03 838.98,183.3 840.7,180.9 C842.42,178.5 844.18,176.45 845.9,173.7 C847.62,170.95 849.63,167.15 851,164.4 C852.37,161.65 852.88,159.93 854.1,157.2 C855.32,154.47 856.92,150.92 858.3,148 C859.68,145.08 861.03,142.62 862.4,139.7 C863.77,136.78 865.13,133.25 866.5,130.5 C867.87,127.75 869.05,125.95 870.6,123.2 C872.15,120.45 874.08,116.92 875.8,114 C877.52,111.08 878.85,107.93 880.9,105.7 C882.95,103.47 885.7,101.1 888.1,100.6 C890.5,100.1 892.9,101.15 895.3,102.7 C897.7,104.25 900.27,106.98 902.5,109.9 C904.73,112.82 906.63,116.95 908.7,120.2 C910.77,123.45 913.02,126.32 914.9,129.4 C916.78,132.48 918.28,135.95 920,138.7 C921.72,141.45 923.13,143.05 925.2,145.9 C927.27,148.75 932.57,153.92 932.4,155.8 C932.23,157.68 929,156.9 924.2,157.2 C919.4,157.5 910.47,157.53 903.6,157.6 C896.73,157.67 889.87,157.67 883,157.6 C876.13,157.53 866.87,157.38 862.4,157.2 C857.93,157.02 856.85,157.7 856.2,156.5 C855.55,155.3 857.65,152.45 858.5,150 C859.35,147.55 860.32,144.2 861.3,141.8 C862.28,139.4 863.2,137.48 864.4,135.6 C865.6,133.72 866.95,132.38 868.5,130.5 C870.05,128.62 871.8,126.02 873.7,124.3 C875.6,122.58 878.02,121.17 879.9,120.2 C881.78,119.23 883.28,118.85 885,118.5 C886.72,118.15 888.48,118 890.2,118.1 C891.92,118.2 893.42,118.07 895.3,119.1 C897.18,120.13 899.62,122.58 901.5,124.3 C903.38,126.02 905.4,127.52 906.6,129.4 C907.8,131.28 909.9,134.05 908.7,135.6 C907.5,137.15 902.67,138.02 899.4,138.7 C896.13,139.38 891.83,139.53 889.1,139.7 C886.37,139.87 884.72,139.9 883,139.7 C881.28,139.5 879.5,139.7 878.8,138.5 C878.1,137.3 877.93,134.35 878.8,132.5 C879.67,130.65 882.28,128.53 884,127.4 C885.72,126.27 887.38,125.7 889.1,125.7 C890.82,125.7 892.65,126.6 894.3,127.4 C895.95,128.2 898.38,129.48 899,130.5 C899.62,131.52 898.95,133.07 898,133.5 C897.05,133.93 894.08,133.17 893.3,133.1" stroke="#ff0000" stroke-width="3.7" fill="none" stroke-linecap="round" stroke-dasharray="0 4.8" stroke-dashoffset="0.23"/>
<path d="M605.5,13.4 C606.09,13.83 608.07,14.9 609.06,16 C610.06,17.1 610.7,18.5 611.47,20 C612.24,21.5 613.02,23.33 613.7,25 C614.39,26.67 614.73,27.5 615.57,30 C616.41,32.5 617.76,36.67 618.76,40 C619.76,43.33 620.66,46.67 621.55,50 C622.45,53.33 623.29,56.67 624.12,60 C624.95,63.33 625.75,66.67 626.54,70 C627.33,73.33 627.81,75.2 628.85,80 C629.9,84.8 631.63,93.82 632.8,98.8 C633.97,103.78 635.08,106.37 635.9,109.9 C636.72,113.43 637.03,116.7 637.7,120 C638.37,123.3 639.1,126.32 639.9,129.7 C640.7,133.08 641.68,136.83 642.5,140.3 C643.32,143.77 644.07,147.42 644.8,150.5 C645.53,153.58 646.13,155.72 646.9,158.8 C647.67,161.88 648.47,165.53 649.4,169 C650.33,172.47 651.48,176.3 652.5,179.6 C653.52,182.9 654.33,185.5 655.5,188.8 C656.67,192.1 658.05,196.1 659.5,199.4 C660.95,202.7 662.3,205.73 664.2,208.6 C666.1,211.47 668.9,215.1 670.9,216.6 C672.9,218.1 674.42,217.57 676.2,217.6 C677.98,217.63 679.47,218.08 681.6,216.8 C683.73,215.52 686.9,212.43 689,209.9 C691.1,207.37 692.55,204.55 694.2,201.6 C695.85,198.65 697.38,195.47 698.9,192.2 C700.42,188.93 701.88,185.33 703.3,182 C704.72,178.67 706.08,175.47 707.4,172.2 C708.72,168.93 709.93,165.75 711.2,162.4 C712.47,159.05 713.7,155.45 715,152.1 C716.3,148.75 717.58,145.5 719,142.3 C720.42,139.1 722.25,135.93 723.5,132.9 C724.75,129.87 725.22,127.33 726.5,124.1 C727.78,120.87 729.38,116.67 731.2,113.5 C733.02,110.33 735.05,107.45 737.4,105.1 C739.75,102.75 742.52,100.02 745.3,99.4 C748.08,98.78 751.5,99.97 754.1,101.4 C756.7,102.83 758.78,105.53 760.9,108 C763.02,110.47 764.88,113.45 766.8,116.2 C768.72,118.95 770.6,121.72 772.4,124.5 C774.2,127.28 776.5,130.65 777.6,132.9 C778.7,135.15 779.15,136.72 779,138 C778.85,139.28 779.18,139.93 776.7,140.6 C774.22,141.27 768.35,141.62 764.1,142 C759.85,142.38 755.62,142.83 751.2,142.9 C746.78,142.97 741.13,143.32 737.6,142.4 C734.07,141.48 730.68,139.37 730,137.4 C729.32,135.43 731.8,132.95 733.5,130.6 C735.2,128.25 739.08,124.52 740.2,123.3" stroke="#0000ff" stroke-width="3.4" fill="none" stroke-linecap="round" stroke-dasharray="0 10.2" stroke-dashoffset="2.95"/>
<path d="M605.5,13.4 C606.1,13.83 608.07,14.9 609.08,16 C610.08,17.1 610.74,18.5 611.53,20 C612.32,21.5 613.12,23.33 613.82,25 C614.53,26.67 614.88,27.5 615.76,30 C616.64,32.5 618.06,36.67 619.11,40 C620.17,43.33 621.13,46.67 622.09,50 C623.05,53.33 623.96,56.67 624.85,60 C625.75,63.33 626.62,66.67 627.48,70 C628.34,73.33 628.7,75.05 630.02,80 C631.34,84.95 634.05,94.5 635.4,99.7 C636.75,104.9 637.28,107.82 638.1,111.2 C638.92,114.58 639.52,116.92 640.3,120 C641.08,123.08 642.07,127.05 642.8,129.7 C643.53,132.35 644.02,133.68 644.7,135.9 C645.38,138.12 646.08,140.52 646.9,143 C647.72,145.48 648.72,148.08 649.6,150.8 C650.48,153.52 651.25,156.78 652.2,159.3 C653.15,161.82 654.12,163.33 655.3,165.9 C656.48,168.47 658.1,172.5 659.3,174.7 C660.5,176.9 661.4,177.63 662.5,179.1 C663.6,180.57 664.65,182.25 665.9,183.5 C667.15,184.75 668.68,185.82 670,186.6 C671.32,187.38 672.55,187.88 673.8,188.2 C675.05,188.52 676.32,188.53 677.5,188.5 C678.68,188.47 679.45,188.53 680.9,188 C682.35,187.47 684.68,186.22 686.2,185.3 C687.72,184.38 688.9,183.38 690,182.5 C691.1,181.62 691.83,181.2 692.8,180 C693.77,178.8 694.62,176.77 695.8,175.3 C696.98,173.83 698.45,173.27 699.9,171.2 C701.35,169.13 703.22,165.13 704.5,162.9 C705.78,160.67 706.65,159.52 707.6,157.8 C708.55,156.08 708.82,154.83 710.2,152.6 C711.58,150.37 714.68,146.5 715.9,144.4 C717.12,142.3 716.65,141.73 717.5,140 C718.35,138.27 719.92,135.75 721,134 C722.08,132.25 723.03,131.43 724,129.5 C724.97,127.57 725.8,124.38 726.8,122.4 C727.8,120.42 728.58,119.47 730,117.6 C731.42,115.73 733.83,112.87 735.3,111.2 C736.77,109.53 737.23,108.75 738.8,107.6 C740.37,106.45 742.88,104.7 744.7,104.3 C746.52,103.9 748.03,104.83 749.7,105.2 C751.37,105.57 753.18,105.6 754.7,106.5 C756.22,107.4 758.02,108.75 758.8,110.6 C759.58,112.45 759.45,115.53 759.4,117.6 C759.35,119.67 758.8,121.18 758.5,123 C758.2,124.82 757.75,127.58 757.6,128.5" stroke="#ff00ff" stroke-width="3.6" fill="none" stroke-linecap="round" stroke-dasharray="6.5 7 0 7.5" stroke-dashoffset="2.33"/>
<path d="M605.5,13.4 C606.1,13.83 608.08,14.9 609.09,16 C610.11,17.1 610.77,18.5 611.58,20 C612.38,21.5 613.2,23.33 613.93,25 C614.65,26.67 615.01,27.5 615.93,30 C616.84,32.5 618.31,36.67 619.42,40 C620.52,43.33 621.54,46.67 622.55,50 C623.56,53.33 624.53,56.67 625.48,60 C626.44,63.33 627.37,66.67 628.29,70 C629.21,73.33 629.9,76.08 631.02,80 C632.14,83.92 633.82,89.48 635,93.5 C636.18,97.52 637.25,101.3 638.1,104.1 C638.95,106.9 639.37,108.23 640.1,110.3 C640.83,112.37 641.65,114.3 642.5,116.5 C643.35,118.7 644.53,121.52 645.2,123.5 C645.87,125.48 645.92,126.55 646.5,128.4 C647.08,130.25 647.75,132.47 648.7,134.6 C649.65,136.73 651.17,139.37 652.2,141.2 C653.23,143.03 654.08,143.98 654.9,145.6 C655.72,147.22 656.08,149.22 657.1,150.9 C658.12,152.58 659.53,154.23 661,155.7 C662.47,157.17 663.98,158.45 665.9,159.7 C667.82,160.95 670.82,162.55 672.5,163.2 C674.18,163.85 674.82,163.6 676,163.6 C677.18,163.6 677.83,163.63 679.6,163.2 C681.37,162.77 684.5,161.8 686.6,161 C688.7,160.2 690.42,159.45 692.2,158.4 C693.98,157.35 695.75,156.03 697.3,154.7 C698.85,153.37 700.15,151.95 701.5,150.4 C702.85,148.85 704.2,147 705.4,145.4 C706.6,143.8 707.47,142.52 708.7,140.8 C709.93,139.08 711.65,136.75 712.8,135.1 C713.95,133.45 714.6,132.53 715.6,130.9 C716.6,129.27 717.77,127.02 718.8,125.3 C719.83,123.58 720.42,122.27 721.8,120.6 C723.18,118.93 725.8,117.07 727.1,115.3 C728.4,113.53 728.53,111.7 729.6,110 C730.67,108.3 732.17,106.57 733.5,105.1 C734.83,103.63 735.83,102.45 737.6,101.2 C739.37,99.95 743.02,98.2 744.1,97.6" stroke="#008000" stroke-width="3.6" fill="none" stroke-linecap="round" stroke-dasharray="5.5 6 0 6 0 6.5" stroke-dashoffset="0.22"/>
<path d="M605.5,13.4 C605.75,13.58 606.25,13.9 607,14.5 C607.75,15.1 608.97,15.83 610,17 C611.03,18.17 612.03,19.33 613.2,21.5 C614.37,23.67 615.67,26.57 617,30 C618.33,33.43 620.03,38.77 621.2,42.1 C622.37,45.43 623.12,47.37 624,50 C624.88,52.63 625.75,55.4 626.5,57.9 C627.25,60.4 627.77,62.5 628.5,65 C629.23,67.5 630.12,70.2 630.9,72.9 C631.68,75.6 632.32,78.6 633.2,81.2 C634.08,83.8 635.38,86.15 636.2,88.5 C637.02,90.85 637.27,92.85 638.1,95.3 C638.93,97.75 640.25,100.63 641.2,103.2 C642.15,105.77 642.85,108.48 643.8,110.7 C644.75,112.92 645.72,114.07 646.9,116.5 C648.08,118.93 649.57,122.8 650.9,125.3 C652.23,127.8 653.5,129.73 654.9,131.5 C656.3,133.27 657.47,134.58 659.3,135.9 C661.13,137.22 664.8,138.82 665.9,139.4" stroke="#000080" stroke-width="3.6" fill="none" stroke-linecap="round" stroke-dasharray="1.2 6.3" stroke-dashoffset="1.4"/>
<path d="M118,325.52 H473" stroke="#000" stroke-width="3.4" fill="none" stroke-linejoin="round"/>
<path d="M118,325.4 C118.5,325.4 119.97,325.38 121,325.4 C122.03,325.42 122.82,325.35 124.2,325.5 C125.58,325.65 127.77,325.92 129.3,326.3 C130.83,326.68 132.03,327.15 133.4,327.8 C134.77,328.45 136.22,329.28 137.5,330.2 C138.78,331.12 140.07,332.35 141.1,333.3 C142.13,334.25 142.75,334.78 143.7,335.9 C144.65,337.02 145.85,338.72 146.8,340 C147.75,341.28 148.53,342.37 149.4,343.6 C150.27,344.83 151.23,346.1 152,347.4 C152.77,348.7 153.28,350.07 154,351.4 C154.72,352.73 155.58,354.03 156.3,355.4 C157.02,356.77 157.65,358.22 158.3,359.6 C158.95,360.98 159.55,362.32 160.2,363.7 C160.85,365.08 161.55,366.48 162.2,367.9 C162.85,369.32 163.5,370.77 164.1,372.2 C164.7,373.63 165.23,375.03 165.8,376.5 C166.37,377.97 166.87,379.5 167.5,381 C168.13,382.5 168.95,384.07 169.6,385.5 C170.25,386.93 170.85,388.3 171.4,389.6 C171.95,390.9 172.33,391.92 172.9,393.3 C173.47,394.68 174.2,396.4 174.8,397.9 C175.4,399.4 175.95,400.92 176.5,402.3 C177.05,403.68 177.58,404.88 178.1,406.2 C178.62,407.52 179.05,408.8 179.6,410.2 C180.15,411.6 180.83,413.2 181.4,414.6 C181.97,416 182.43,417.2 183,418.6 C183.57,420 184.25,421.62 184.8,423 C185.35,424.38 185.8,425.53 186.3,426.9 C186.8,428.27 187.28,429.77 187.8,431.2 C188.32,432.63 188.82,433.98 189.4,435.5 C189.98,437.02 190.67,438.78 191.3,440.3 C191.93,441.82 192.58,443.23 193.2,444.6 C193.82,445.97 194.42,447.2 195,448.5 C195.58,449.8 196.12,451.07 196.7,452.4 C197.28,453.73 197.9,455.08 198.5,456.5 C199.1,457.92 199.65,459.45 200.3,460.9 C200.95,462.35 201.72,463.75 202.4,465.2 C203.08,466.65 203.77,468.22 204.4,469.6 C205.03,470.98 205.55,472.15 206.2,473.5 C206.85,474.85 207.62,476.33 208.3,477.7 C208.98,479.07 209.63,480.35 210.3,481.7 C210.97,483.05 211.62,484.47 212.3,485.8 C212.98,487.13 213.65,488.42 214.4,489.7 C215.15,490.98 215.97,492.25 216.8,493.5 C217.63,494.75 218.58,496 219.4,497.2 C220.22,498.4 220.93,499.57 221.7,500.7 C222.47,501.83 223.15,502.87 224,504 C224.85,505.13 225.8,506.37 226.8,507.5 C227.8,508.63 228.87,509.75 230,510.8 C231.13,511.85 232.35,512.88 233.6,513.8 C234.85,514.72 236.12,515.53 237.5,516.3 C238.88,517.07 240.43,517.83 241.9,518.4 C243.37,518.97 244.63,519.37 246.3,519.7 C247.97,520.03 250.03,520.23 251.9,520.4 C253.77,520.57 255.6,520.63 257.5,520.7 C259.4,520.77 261.33,520.77 263.3,520.8 C265.27,520.83 267.47,520.75 269.3,520.9 C271.13,521.05 272.62,521.35 274.3,521.7 C275.98,522.05 277.85,522.52 279.4,523 C280.95,523.48 282.25,524 283.6,524.6 C284.95,525.2 286.2,525.85 287.5,526.6 C288.8,527.35 290.22,528.3 291.4,529.1 C292.58,529.9 293.47,530.53 294.6,531.4 C295.73,532.27 297.07,533.33 298.2,534.3 C299.33,535.27 300.28,536.22 301.4,537.2 C302.52,538.18 303.75,539.23 304.9,540.2 C306.05,541.17 307.18,542.05 308.3,543 C309.42,543.95 310.53,544.93 311.6,545.9 C312.67,546.87 313.67,547.83 314.7,548.8 C315.73,549.77 316.72,550.78 317.8,551.7 C318.88,552.62 320.13,553.42 321.2,554.3 C322.27,555.18 323.13,556.08 324.2,557 C325.27,557.92 326.47,558.87 327.6,559.8 C328.73,560.73 329.47,561.33 331,562.6 C332.53,563.87 334.65,565.73 336.8,567.4 C338.95,569.07 341.55,571 343.9,572.6 C346.25,574.2 348.57,575.53 350.9,577 C353.23,578.47 355.57,579.93 357.9,581.4 C360.23,582.87 362.57,584.37 364.9,585.8 C367.23,587.23 369.57,588.85 371.9,590 C374.23,591.15 376.27,591.95 378.9,592.7 C381.53,593.45 384.18,594.1 387.7,594.5 C391.22,594.9 395.9,594.95 400,595.1 C404.1,595.25 408.5,595.2 412.3,595.4 C416.1,595.6 419.3,595.7 422.8,596.3 C426.3,596.9 430.43,598.25 433.3,599 C436.17,599.75 438.38,600.37 440,600.8 C441.62,601.23 443.5,601.27 443,601.6 C442.5,601.93 438.62,602.52 437,602.8 C435.38,603.08 435.67,603 433.3,603.3 C430.93,603.6 426.88,604.25 422.8,604.6 C418.72,604.95 414.07,605.17 408.8,605.4 C403.53,605.63 396.83,605.85 391.2,606 C385.57,606.15 378.5,606.22 375,606.3 C371.5,606.38 369.83,606.27 370.2,606.5 C370.57,606.73 374.28,607.27 377.2,607.7 C380.12,608.13 384.48,608.67 387.7,609.1 C390.92,609.53 392.98,610.15 396.5,610.3 C400.02,610.45 404.72,610.08 408.8,610 C412.88,609.92 418.97,609.83 421,609.8" stroke="#ff0000" stroke-width="3.7" fill="none" stroke-linecap="round" stroke-dasharray="0 4.8" stroke-dashoffset="2.22"/>
<path d="M118,325.4 C118.5,325.42 119.83,325.32 121,325.5 C122.17,325.68 123.67,326.03 125,326.5 C126.33,326.97 127.8,327.68 129,328.3 C130.2,328.92 131.2,329.62 132.2,330.2 C133.2,330.78 134.05,331 135,331.8 C135.95,332.6 136.97,333.8 137.9,335 C138.83,336.2 139.75,337.58 140.6,339 C141.45,340.42 142.22,341.97 143,343.5 C143.78,345.03 144.32,346.22 145.3,348.2 C146.28,350.18 147.7,352.65 148.9,355.4 C150.1,358.15 151.3,361.35 152.5,364.7 C153.7,368.05 155,371.88 156.1,375.5 C157.2,379.12 158.02,382.8 159.1,386.4 C160.18,390 161.42,393.48 162.6,397.1 C163.78,400.72 165.2,404.72 166.2,408.1 C167.2,411.48 167.73,414.18 168.6,417.4 C169.47,420.62 170.37,423.85 171.4,427.4 C172.43,430.95 173.78,435.22 174.8,438.7 C175.82,442.18 176.55,444.85 177.5,448.3 C178.45,451.75 179.5,456.08 180.5,459.4 C181.5,462.72 182.52,465.15 183.5,468.2 C184.48,471.25 185.37,474.22 186.4,477.7 C187.43,481.18 188.57,485.77 189.7,489.1 C190.83,492.43 192.12,494.57 193.2,497.7 C194.28,500.83 195.17,504.77 196.2,507.9 C197.23,511.03 198.18,513.33 199.4,516.5 C200.62,519.67 202.15,523.82 203.5,526.9 C204.85,529.98 206.15,532.08 207.5,535 C208.85,537.92 210.1,541.38 211.6,544.4 C213.1,547.42 215.1,550.4 216.5,553.1 C217.9,555.8 218.5,558.07 220,560.6 C221.5,563.13 223.67,565.85 225.5,568.3 C227.33,570.75 229.03,573.25 231,575.3 C232.97,577.35 235.42,579.23 237.3,580.6 C239.18,581.97 240.65,582.73 242.3,583.5 C243.95,584.27 244.3,584.82 247.2,585.2 C250.1,585.58 255.42,585.57 259.7,585.8 C263.98,586.03 269.15,586.08 272.9,586.6 C276.65,587.12 279.35,588.08 282.2,588.9 C285.05,589.72 288.32,590.88 290,591.5 C291.68,592.12 292.47,592.18 292.3,592.6 C292.13,593.02 290.75,593.63 289,594 C287.25,594.37 285.13,594.48 281.8,594.8 C278.47,595.12 273.43,595.65 269,595.9 C264.57,596.15 259.63,596.2 255.2,596.3 C250.77,596.4 244.53,596.47 242.4,596.5" stroke="#0000ff" stroke-width="3.4" fill="none" stroke-linecap="round" stroke-dasharray="0 10.2" stroke-dashoffset="0.64"/>
<path d="M118,325.4 C118.5,325.42 119.92,325.32 121,325.5 C122.08,325.68 123.33,326 124.5,326.5 C125.67,327 126.87,327.67 128,328.5 C129.13,329.33 130.22,330.33 131.3,331.5 C132.38,332.67 133.47,334.08 134.5,335.5 C135.53,336.92 136.53,338.42 137.5,340 C138.47,341.58 139.38,343.25 140.3,345 C141.22,346.75 142.15,348.62 143,350.5 C143.85,352.38 144.6,354.3 145.4,356.3 C146.2,358.3 146.98,360.3 147.8,362.5 C148.62,364.7 149.48,367.08 150.3,369.5 C151.12,371.92 151.92,374.5 152.7,377 C153.48,379.5 154.28,382.05 155,384.5 C155.72,386.95 156.2,388.62 157,391.7 C157.8,394.78 158.87,399.23 159.8,403 C160.73,406.77 161.53,410.47 162.6,414.3 C163.67,418.13 165,422.05 166.2,426 C167.4,429.95 168.68,434.12 169.8,438 C170.92,441.88 171.95,445.88 172.9,449.3 C173.85,452.72 174.72,455.4 175.5,458.5 C176.28,461.6 176.85,465.07 177.6,467.9 C178.35,470.73 179.25,473.05 180,475.5 C180.75,477.95 181.13,479.68 182.1,482.6 C183.07,485.52 184.53,489.57 185.8,493 C187.07,496.43 188.5,500.12 189.7,503.2 C190.9,506.28 191.92,508.95 193,511.5 C194.08,514.05 195.28,516.45 196.2,518.5 C197.12,520.55 197.4,521.3 198.5,523.8 C199.6,526.3 201.23,530.33 202.8,533.5 C204.37,536.67 206.48,540.25 207.9,542.8 C209.32,545.35 209.9,546.55 211.3,548.8 C212.7,551.05 214.95,554.18 216.3,556.3 C217.65,558.42 218.27,559.73 219.4,561.5 C220.53,563.27 221.53,564.97 223.1,566.9 C224.67,568.83 227.18,571.37 228.8,573.1 C230.42,574.83 231.35,576.05 232.8,577.3 C234.25,578.55 235.97,579.72 237.5,580.6 C239.03,581.48 240.43,581.97 242,582.6 C243.57,583.23 244.88,583.97 246.9,584.4 C248.92,584.83 251.43,585.08 254.1,585.2 C256.77,585.32 260.2,585 262.9,585.1 C265.6,585.2 269.07,585.68 270.3,585.8" stroke="#ff00ff" stroke-width="3.6" fill="none" stroke-linecap="round" stroke-dasharray="6.5 7 0 7.5" stroke-dashoffset="20.12"/>
<path d="M118,325.4 C118.5,325.42 119.92,325.32 121,325.5 C122.08,325.68 123.33,326 124.5,326.5 C125.67,327 126.87,327.67 128,328.5 C129.13,329.33 130.27,330.38 131.3,331.5 C132.33,332.62 133.25,333.82 134.2,335.2 C135.15,336.58 136.1,338.08 137,339.8 C137.9,341.52 138.77,343.55 139.6,345.5 C140.43,347.45 141.22,349.42 142,351.5 C142.78,353.58 143.55,355.8 144.3,358 C145.05,360.2 145.77,362.38 146.5,364.7 C147.23,367.02 148.02,369.52 148.7,371.9 C149.38,374.28 149.95,376.65 150.6,379 C151.25,381.35 151.97,383.8 152.6,386 C153.23,388.2 153.7,389.78 154.4,392.2 C155.1,394.62 155.98,397.7 156.8,400.5 C157.62,403.3 158.47,406.17 159.3,409 C160.13,411.83 160.93,414.5 161.8,417.5 C162.67,420.5 163.58,423.62 164.5,427 C165.42,430.38 166.43,434.02 167.3,437.8 C168.17,441.58 168.75,446.53 169.7,449.7 C170.65,452.87 172.02,454.45 173,456.8 C173.98,459.15 174.57,461.15 175.6,463.8 C176.63,466.45 177.93,469.75 179.2,472.7 C180.47,475.65 182.13,479.15 183.2,481.5 C184.27,483.85 184.38,484.47 185.6,486.8 C186.82,489.13 188.87,492.77 190.5,495.5 C192.13,498.23 193.97,501.03 195.4,503.2 C196.83,505.37 197.6,506.33 199.1,508.5 C200.6,510.67 202.58,513.7 204.4,516.2 C206.22,518.7 208.43,521.4 210,523.5 C211.57,525.6 212.18,526.78 213.8,528.8 C215.42,530.82 217.73,533.35 219.7,535.6 C221.67,537.85 223.82,540.48 225.6,542.3 C227.38,544.12 228.32,544.97 230.4,546.5 C232.48,548.03 235.25,550.03 238.1,551.5 C240.95,552.97 244.53,554.62 247.5,555.3 C250.47,555.98 254.5,555.55 255.9,555.6" stroke="#008000" stroke-width="3.6" fill="none" stroke-linecap="round" stroke-dasharray="5.5 6 0 6 0 6.5" stroke-dashoffset="23.07"/>
<path d="M118,325.4 C118.25,325.42 118.58,325.35 119.5,325.5 C120.42,325.65 122.2,325.9 123.5,326.3 C124.8,326.7 126.22,327.23 127.3,327.9 C128.38,328.57 129.23,329.48 130,330.3 C130.77,331.12 131.23,331.77 131.9,332.8 C132.57,333.83 133.32,335.22 134,336.5 C134.68,337.78 135.15,338.63 136,340.5 C136.85,342.37 138.07,345.12 139.1,347.7 C140.13,350.28 141.27,353.33 142.2,356 C143.13,358.67 143.85,361.05 144.7,363.7 C145.55,366.35 146.52,369.17 147.3,371.9 C148.08,374.63 148.63,377.33 149.4,380.1 C150.17,382.87 151.07,385.8 151.9,388.5 C152.73,391.2 153.63,393.63 154.4,396.3 C155.17,398.97 155.73,401.75 156.5,404.5 C157.27,407.25 158.23,410.13 159,412.8 C159.77,415.47 160.32,417.93 161.1,420.5 C161.88,423.07 162.85,425.63 163.7,428.2 C164.55,430.77 165.27,433.33 166.2,435.9 C167.13,438.47 168.25,441.12 169.3,443.6 C170.35,446.08 171.42,448.45 172.5,450.8 C173.58,453.15 175.25,456.55 175.8,457.7" stroke="#000080" stroke-width="3.6" fill="none" stroke-linecap="round" stroke-dasharray="1.2 6.3" stroke-dashoffset="2.79"/>
<path d="M605.5,331.33 H960.5" stroke="#000" stroke-width="3.4" fill="none" stroke-linejoin="round"/>
<path d="M605.5,331.3 C605.72,331.55 606.27,332.15 606.8,332.8 C607.33,333.45 608.1,334.12 608.7,335.2 C609.3,336.28 609.77,337.83 610.4,339.3 C611.03,340.77 611.82,342.63 612.5,344 C613.18,345.37 613.85,346.32 614.5,347.5 C615.15,348.68 615.65,349.8 616.4,351.1 C617.15,352.4 618.15,354.03 619,355.3 C619.85,356.57 620.65,357.5 621.5,358.7 C622.35,359.9 623.23,361.27 624.1,362.5 C624.97,363.73 625.85,364.95 626.7,366.1 C627.55,367.25 628.35,368.35 629.2,369.4 C630.05,370.45 630.93,371.45 631.8,372.4 C632.67,373.35 633.37,374.1 634.4,375.1 C635.43,376.1 636.85,377.42 638,378.4 C639.15,379.38 640.18,380.2 641.3,381 C642.42,381.8 643.4,382.43 644.7,383.2 C646,383.97 647.78,384.97 649.1,385.6 C650.42,386.23 651.22,386.57 652.6,387 C653.98,387.43 655.73,387.88 657.4,388.2 C659.07,388.52 660.8,388.72 662.6,388.9 C664.4,389.08 666.28,389.22 668.2,389.3 C670.12,389.38 672.13,389.38 674.1,389.4 C676.07,389.42 678.05,389.35 680,389.4 C681.95,389.45 683.88,389.58 685.8,389.7 C687.72,389.82 689.73,389.9 691.5,390.1 C693.27,390.3 694.7,390.53 696.4,390.9 C698.1,391.27 700.12,391.83 701.7,392.3 C703.28,392.77 704.5,393.17 705.9,393.7 C707.3,394.23 708.72,394.87 710.1,395.5 C711.48,396.13 712.93,396.78 714.2,397.5 C715.47,398.22 716.53,398.97 717.7,399.8 C718.87,400.63 720.12,401.67 721.2,402.5 C722.28,403.33 723.17,403.95 724.2,404.8 C725.23,405.65 726.35,406.67 727.4,407.6 C728.45,408.53 729.52,409.42 730.5,410.4 C731.48,411.38 732.23,412.37 733.3,413.5 C734.37,414.63 735.85,416.03 736.9,417.2 C737.95,418.37 738.65,419.38 739.6,420.5 C740.55,421.62 741.57,422.78 742.6,423.9 C743.63,425.02 744.8,426.13 745.8,427.2 C746.8,428.27 747.6,429.25 748.6,430.3 C749.6,431.35 750.78,432.47 751.8,433.5 C752.82,434.53 753.72,435.48 754.7,436.5 C755.68,437.52 756.68,438.58 757.7,439.6 C758.72,440.62 759.8,441.65 760.8,442.6 C761.8,443.55 762.7,444.4 763.7,445.3 C764.7,446.2 765.72,447.15 766.8,448 C767.88,448.85 769.08,449.62 770.2,450.4 C771.32,451.18 772.4,451.98 773.5,452.7 C774.6,453.42 775.53,454.03 776.8,454.7 C778.07,455.37 779.67,456.08 781.1,456.7 C782.53,457.32 783.92,457.9 785.4,458.4 C786.88,458.9 788.4,459.3 790,459.7 C791.6,460.1 793.28,460.52 795,460.8 C796.72,461.08 798.47,461.22 800.3,461.4 C802.13,461.58 804.12,461.75 806,461.9 C807.88,462.05 808.65,462.23 811.6,462.3 C814.55,462.37 819.68,462.28 823.7,462.3 C827.72,462.32 831.98,462.18 835.7,462.4 C839.42,462.62 842.75,462.93 846,463.6 C849.25,464.27 852.12,465.38 855.2,466.4 C858.28,467.42 861.7,468.37 864.5,469.7 C867.3,471.03 869.52,472.85 872,474.4 C874.48,475.95 876.93,477.3 879.4,479 C881.87,480.7 884.48,482.9 886.8,484.6 C889.12,486.3 891.13,487.65 893.3,489.2 C895.47,490.75 897.47,492.35 899.8,493.9 C902.13,495.45 904.67,497.12 907.3,498.5 C909.93,499.88 912.82,501.08 915.6,502.2 C918.38,503.32 921.58,504.52 924,505.2 C926.42,505.88 930.88,506.33 930.1,506.3 C929.32,506.27 922.95,505.22 919.3,505 C915.65,504.78 912.07,505.07 908.2,505 C904.33,504.93 899.97,504.72 896.1,504.6 C892.23,504.48 888.87,504.45 885,504.3 C881.13,504.15 876.62,503.95 872.9,503.7 C869.18,503.45 865.33,503.2 862.7,502.8 C860.07,502.4 856.63,500.93 857.1,501.3 C857.57,501.67 863.33,503.97 865.5,505 C867.67,506.03 868.25,506.5 870.1,507.5 C871.95,508.5 874.58,509.93 876.6,511 C878.62,512.07 880.18,512.88 882.2,513.9 C884.22,514.92 886.38,515.8 888.7,517.1 C891.02,518.4 893.78,520.3 896.1,521.7 C898.42,523.1 900.58,524.2 902.6,525.5 C904.62,526.8 908.3,529.17 908.2,529.5 C908.1,529.83 903.87,528.08 902,527.5 C900.13,526.92 898.45,526.03 897,526 C895.55,525.97 894.05,526.47 893.3,527.3 C892.55,528.13 892.55,529.13 892.5,531 C892.45,532.87 893.48,538.17 893,538.5 C892.52,538.83 890.78,534.62 889.6,533 C888.42,531.38 887.3,530.37 885.9,528.8 C884.5,527.23 882.6,525.08 881.2,523.6 C879.8,522.12 878.12,520.52 877.5,519.9" stroke="#ff0000" stroke-width="3.7" fill="none" stroke-linecap="round" stroke-dasharray="0 4.8" stroke-dashoffset="4.13"/>
<path d="M605.5,331.3 C605.67,331.83 606.12,333.38 606.5,334.5 C606.88,335.62 607.43,336.85 607.8,338 C608.17,339.15 608.13,339.12 608.7,341.4 C609.27,343.68 610.35,348.45 611.2,351.7 C612.05,354.95 612.88,357.78 613.8,360.9 C614.72,364.02 615.58,367 616.7,370.4 C617.82,373.8 619.38,378.12 620.5,381.3 C621.62,384.48 622.35,386.72 623.4,389.5 C624.45,392.28 625.67,395.27 626.8,398 C627.93,400.73 628.82,403.02 630.2,405.9 C631.58,408.78 633.47,412.5 635.1,415.3 C636.73,418.1 638.15,420.4 640,422.7 C641.85,425 644.53,427.55 646.2,429.1 C647.87,430.65 648.63,431.1 650,432 C651.37,432.9 652.73,433.78 654.4,434.5 C656.07,435.22 658.13,435.82 660,436.3 C661.87,436.78 663.6,437.18 665.6,437.4 C667.6,437.62 669.78,437.55 672,437.6 C674.22,437.65 676.73,437.63 678.9,437.7 C681.07,437.77 682.87,437.87 685,438 C687.13,438.13 689.7,438.23 691.7,438.5 C693.7,438.77 695.22,439.05 697,439.6 C698.78,440.15 700.73,441.07 702.4,441.8 C704.07,442.53 705.53,443.17 707,444 C708.47,444.83 709.23,445.32 711.2,446.8 C713.17,448.28 716.42,450.67 718.8,452.9 C721.18,455.13 723.5,457.83 725.5,460.2 C727.5,462.57 728.87,464.58 730.8,467.1 C732.73,469.62 735.08,472.57 737.1,475.3 C739.12,478.03 740.97,480.72 742.9,483.5 C744.83,486.28 746.82,489.2 748.7,492 C750.58,494.8 752.27,497.68 754.2,500.3 C756.13,502.92 758.18,505.27 760.3,507.7 C762.42,510.13 764.87,512.93 766.9,514.9 C768.93,516.87 770.43,517.78 772.5,519.5 C774.57,521.22 778.98,524.92 779.3,525.2 C779.62,525.48 776.08,521.82 774.4,521.2 C772.72,520.58 772,521.82 769.2,521.5 C766.4,521.18 761.47,520.03 757.6,519.3 C753.73,518.57 749.82,517.87 746,517.1 C742.18,516.33 737.37,515.28 734.7,514.7 C732.03,514.12 729.87,512.28 730,513.6 C730.13,514.92 733.95,520 735.5,522.6 C737.05,525.2 737.83,526.62 739.3,529.2 C740.77,531.78 742.85,535.28 744.3,538.1 C745.75,540.92 747.38,544.77 748,546.1" stroke="#0000ff" stroke-width="3.4" fill="none" stroke-linecap="round" stroke-dasharray="0 10.2" stroke-dashoffset="8.22"/>
<path d="M605.5,331.3 C605.63,331.75 606,332.72 606.3,334 C606.6,335.28 606.93,337.25 607.3,339 C607.67,340.75 608.1,342.67 608.5,344.5 C608.9,346.33 609.2,347.67 609.7,350 C610.2,352.33 610.95,355.83 611.5,358.5 C612.05,361.17 612.53,363.5 613,366 C613.47,368.5 613.78,370.45 614.3,373.5 C614.82,376.55 615.57,381.3 616.1,384.3 C616.63,387.3 617.1,389.57 617.5,391.5 C617.9,393.43 618.08,394.18 618.5,395.9 C618.92,397.62 619.35,399.15 620,401.8 C620.65,404.45 621.82,409.35 622.4,411.8 C622.98,414.25 623.02,414.55 623.5,416.5 C623.98,418.45 624.32,420.57 625.3,423.5 C626.28,426.43 628.47,431.35 629.4,434.1 C630.33,436.85 630.32,438.23 630.9,440 C631.48,441.77 631.97,442.55 632.9,444.7 C633.83,446.85 635.42,450.65 636.5,452.9 C637.58,455.15 638.33,456.33 639.4,458.2 C640.47,460.07 641.33,462.2 642.9,464.1 C644.47,466 647.03,467.92 648.8,469.6 C650.57,471.28 651.63,473.08 653.5,474.2 C655.37,475.32 657.92,475.78 660,476.3 C662.08,476.82 664.12,477.08 666,477.3 C667.88,477.52 669.3,477.53 671.3,477.6 C673.3,477.67 675.47,477.65 678,477.7 C680.53,477.75 684.17,477.72 686.5,477.9 C688.83,478.08 690.15,478.45 692,478.8 C693.85,479.15 695.68,479.4 697.6,480 C699.52,480.6 701.73,481.52 703.5,482.4 C705.27,483.28 706.13,483.83 708.2,485.3 C710.27,486.77 714.03,489.53 715.9,491.2 C717.77,492.87 718.23,493.83 719.4,495.3 C720.57,496.77 721.33,498.03 722.9,500 C724.47,501.97 727.38,505.03 728.8,507.1 C730.22,509.17 730.22,510.55 731.4,512.4 C732.58,514.25 734.38,515.77 735.9,518.2 C737.42,520.63 739,524.05 740.5,527 C742,529.95 743.35,533.13 744.9,535.9 C746.45,538.67 748.52,541.4 749.8,543.6 C751.08,545.8 751.67,547.27 752.6,549.1 C753.53,550.93 754.42,552.87 755.4,554.6 C756.38,556.33 757.77,558.3 758.5,559.5 C759.23,560.7 759.63,562.8 759.8,561.8 C759.97,560.8 759.75,556.72 759.5,553.5 C759.25,550.28 758.62,545.62 758.3,542.5 C757.98,539.38 757.77,537.38 757.6,534.8 C757.43,532.22 757.4,529.48 757.3,527 C757.2,524.52 757.05,521.08 757,519.9" stroke="#ff00ff" stroke-width="3.6" fill="none" stroke-linecap="round" stroke-dasharray="6.5 7 0 7.5" stroke-dashoffset="18.39"/>
<path d="M605.5,331.3 C605.58,331.75 605.82,333 606,334 C606.18,335 606.33,335.3 606.6,337.3 C606.87,339.3 607.25,343.18 607.6,346 C607.95,348.82 608.37,351.62 608.7,354.2 C609.03,356.78 609.18,359.45 609.6,361.5 C610.02,363.55 610.78,364.12 611.2,366.5 C611.62,368.88 611.78,372.95 612.1,375.8 C612.42,378.65 612.73,381.15 613.1,383.6 C613.47,386.05 613.9,388.1 614.3,390.5 C614.7,392.9 615.03,395.53 615.5,398 C615.97,400.47 616.68,403 617.1,405.3 C617.52,407.6 617.62,409.45 618,411.8 C618.38,414.15 618.93,416.95 619.4,419.4 C619.87,421.85 620.4,424.43 620.8,426.5 C621.2,428.57 621.35,429.48 621.8,431.8 C622.25,434.12 622.95,437.95 623.5,440.4 C624.05,442.85 624.42,444.12 625.1,446.5 C625.78,448.88 627.05,452.45 627.6,454.7 C628.15,456.95 627.95,457.87 628.4,460 C628.85,462.13 629.62,465.1 630.3,467.5 C630.98,469.9 631.72,472.22 632.5,474.4 C633.28,476.58 634.17,478.52 635,480.6 C635.83,482.68 636.67,484.92 637.5,486.9 C638.33,488.88 639.07,490.73 640,492.5 C640.93,494.27 641.85,495.73 643.1,497.5 C644.35,499.27 646.1,501.47 647.5,503.1 C648.9,504.73 649.78,506.18 651.5,507.3 C653.22,508.42 655.65,509.13 657.8,509.8 C659.95,510.47 661.85,510.95 664.4,511.3 C666.95,511.65 670.2,511.82 673.1,511.9 C676,511.98 679.05,511.67 681.8,511.8 C684.55,511.93 687.15,512.32 689.6,512.7 C692.05,513.08 694.53,513.52 696.5,514.1 C698.47,514.68 699.6,515.15 701.4,516.2 C703.2,517.25 705.48,518.95 707.3,520.4 C709.12,521.85 710.83,523.38 712.3,524.9 C713.77,526.42 714.65,527.8 716.1,529.5 C717.55,531.2 719.77,533.35 721,535.1 C722.23,536.85 722.52,538.22 723.5,540 C724.48,541.78 725.92,543.93 726.9,545.8 C727.88,547.67 728.33,549.27 729.4,551.2 C730.47,553.13 732.43,555.67 733.3,557.4 C734.17,559.13 733.97,559.85 734.6,561.6 C735.23,563.35 736.3,565.92 737.1,567.9 C737.9,569.88 738.55,571.28 739.4,573.5 C740.25,575.72 741.42,578.98 742.2,581.2 C742.98,583.42 743.55,584.7 744.1,586.8 C744.65,588.9 745.27,592.63 745.5,593.8" stroke="#008000" stroke-width="3.6" fill="none" stroke-linecap="round" stroke-dasharray="5.5 6 0 6 0 6.5" stroke-dashoffset="3.26"/>
<path d="M605.5,331.3 C605.6,331.58 605.97,331.32 606.1,333 C606.23,334.68 606.1,338.63 606.3,341.4 C606.5,344.17 606.97,346.87 607.3,349.6 C607.63,352.33 607.9,354.8 608.3,357.8 C608.7,360.8 609.3,364.25 609.7,367.6 C610.1,370.95 610.37,374.55 610.7,377.9 C611.03,381.25 611.27,384.5 611.7,387.7 C612.13,390.9 612.83,393.97 613.3,397.1 C613.77,400.23 614.12,403.57 614.5,406.5 C614.88,409.43 615.22,411.97 615.6,414.7 C615.98,417.43 616.37,420.25 616.8,422.9 C617.23,425.55 617.77,427.75 618.2,430.6 C618.63,433.45 618.97,437.17 619.4,440 C619.83,442.83 620.3,444.85 620.8,447.6 C621.3,450.35 621.88,453.55 622.4,456.5 C622.92,459.45 623.37,462.32 623.9,465.3 C624.43,468.28 625.03,471.7 625.6,474.4 C626.17,477.1 626.67,478.9 627.3,481.5 C627.93,484.1 628.63,487.17 629.4,490 C630.17,492.83 631.07,495.78 631.9,498.5 C632.73,501.22 633.57,503.87 634.4,506.3 C635.23,508.73 635.97,510.72 636.9,513.1 C637.83,515.48 638.85,518.2 640,520.6 C641.15,523 642.45,525.52 643.8,527.5 C645.15,529.48 646.43,530.93 648.1,532.5 C649.77,534.07 651.6,535.68 653.8,536.9 C656,538.12 660.05,539.32 661.3,539.8" stroke="#000080" stroke-width="3.6" fill="none" stroke-linecap="round" stroke-dasharray="1.2 6.3" stroke-dashoffset="4.04"/>
<rect x="118" y="6" width="355" height="305" fill="none" stroke="#000" stroke-width="1.8"/>
<path d="M153.5,311v-3 M153.5,6v3 M189,311v-5.5 M189,6v5.5 M224.5,311v-3 M224.5,6v3 M260,311v-5.5 M260,6v5.5 M295.5,311v-3 M295.5,6v3 M331,311v-5.5 M331,6v5.5 M366.5,311v-3 M366.5,6v3 M402,311v-5.5 M402,6v5.5 M437.5,311v-3 M437.5,6v3 M118,245.64h5.5 M473,245.64h-5.5 M118,180.29h5.5 M473,180.29h-5.5 M118,114.93h5.5 M473,114.93h-5.5 M118,49.57h5.5 M473,49.57h-5.5 M118,278.32h3 M473,278.32h-3 M118,212.96h3 M473,212.96h-3 M118,147.61h3 M473,147.61h-3 M118,82.25h3 M473,82.25h-3 M118,16.89h3 M473,16.89h-3" stroke="#000" stroke-width="1.8" fill="none"/>
<rect x="605.5" y="6" width="355" height="305" fill="none" stroke="#000" stroke-width="1.8"/>
<path d="M641,311v-3 M641,6v3 M676.5,311v-5.5 M676.5,6v5.5 M712,311v-3 M712,6v3 M747.5,311v-5.5 M747.5,6v5.5 M783,311v-3 M783,6v3 M818.5,311v-5.5 M818.5,6v5.5 M854,311v-3 M854,6v3 M889.5,311v-5.5 M889.5,6v5.5 M925,311v-3 M925,6v3 M605.5,13.44h5.5 M960.5,13.44h-5.5 M605.5,87.83h5.5 M960.5,87.83h-5.5 M605.5,162.22h5.5 M960.5,162.22h-5.5 M605.5,236.61h5.5 M960.5,236.61h-5.5 M605.5,50.63h3 M960.5,50.63h-3 M605.5,125.02h3 M960.5,125.02h-3 M605.5,199.41h3 M960.5,199.41h-3 M605.5,273.8h3 M960.5,273.8h-3" stroke="#000" stroke-width="1.8" fill="none"/>
<rect x="118" y="311" width="355" height="305" fill="none" stroke="#000" stroke-width="1.8"/>
<path d="M153.5,616v-3 M153.5,311v3 M189,616v-5.5 M189,311v5.5 M224.5,616v-3 M224.5,311v3 M260,616v-5.5 M260,311v5.5 M295.5,616v-3 M295.5,311v3 M331,616v-5.5 M331,311v5.5 M366.5,616v-3 M366.5,311v3 M402,616v-5.5 M402,311v5.5 M437.5,616v-3 M437.5,311v3 M118,325.52h5.5 M473,325.52h-5.5 M118,398.14h5.5 M473,398.14h-5.5 M118,470.76h5.5 M473,470.76h-5.5 M118,543.38h5.5 M473,543.38h-5.5 M118,361.83h3 M473,361.83h-3 M118,434.45h3 M473,434.45h-3 M118,507.07h3 M473,507.07h-3 M118,579.69h3 M473,579.69h-3" stroke="#000" stroke-width="1.8" fill="none"/>
<rect x="605.5" y="311" width="355" height="305" fill="none" stroke="#000" stroke-width="1.8"/>
<path d="M641,616v-3 M641,311v3 M676.5,616v-5.5 M676.5,311v5.5 M712,616v-3 M712,311v3 M747.5,616v-5.5 M747.5,311v5.5 M783,616v-3 M783,311v3 M818.5,616v-5.5 M818.5,311v5.5 M854,616v-3 M854,311v3 M889.5,616v-5.5 M889.5,311v5.5 M925,616v-3 M925,311v3 M605.5,331.33h5.5 M960.5,331.33h-5.5 M605.5,412.67h5.5 M960.5,412.67h-5.5 M605.5,494h5.5 M960.5,494h-5.5 M605.5,575.33h5.5 M960.5,575.33h-5.5 M605.5,372h3 M960.5,372h-3 M605.5,453.33h3 M960.5,453.33h-3 M605.5,534.67h3 M960.5,534.67h-3" stroke="#000" stroke-width="1.8" fill="none"/>
<text transform="translate(112,255.04) scale(1,1.03)" text-anchor="end">30</text>
<text transform="translate(112,189.69) scale(1,1.03)" text-anchor="end">60</text>
<text transform="translate(112,124.33) scale(1,1.03)" text-anchor="end">90</text>
<text transform="translate(112,58.97) scale(1,1.03)" text-anchor="end">120</text>
<text transform="translate(599.5,22.84) scale(1,1.03)" text-anchor="end">0</text>
<text transform="translate(599.5,97.23) scale(1,1.03)" text-anchor="end">-50</text>
<text transform="translate(599.5,171.62) scale(1,1.03)" text-anchor="end">-100</text>
<text transform="translate(599.5,246.01) scale(1,1.03)" text-anchor="end">-150</text>
<text transform="translate(112,334.92) scale(1,1.03)" text-anchor="end">0</text>
<text transform="translate(112,407.54) scale(1,1.03)" text-anchor="end">-5</text>
<text transform="translate(112,480.16) scale(1,1.03)" text-anchor="end">-10</text>
<text transform="translate(112,552.78) scale(1,1.03)" text-anchor="end">-15</text>
<text transform="translate(112,625.4) scale(1,1.03)" text-anchor="end">-20</text>
<text transform="translate(599.5,340.73) scale(1,1.03)" text-anchor="end">0</text>
<text transform="translate(599.5,422.07) scale(1,1.03)" text-anchor="end">-20</text>
<text transform="translate(599.5,503.4) scale(1,1.03)" text-anchor="end">-40</text>
<text transform="translate(599.5,584.73) scale(1,1.03)" text-anchor="end">-60</text>
<text transform="translate(118,645.4) scale(1,1.03)" text-anchor="middle">0</text>
<text transform="translate(189,645.4) scale(1,1.03)" text-anchor="middle">1</text>
<text transform="translate(260,645.4) scale(1,1.03)" text-anchor="middle">2</text>
<text transform="translate(331,645.4) scale(1,1.03)" text-anchor="middle">3</text>
<text transform="translate(402,645.4) scale(1,1.03)" text-anchor="middle">4</text>
<text transform="translate(473,645.4) scale(1,1.03)" text-anchor="middle">5</text>
<text transform="translate(605.5,645.4) scale(1,1.03)" text-anchor="middle">0</text>
<text transform="translate(676.5,645.4) scale(1,1.03)" text-anchor="middle">1</text>
<text transform="translate(747.5,645.4) scale(1,1.03)" text-anchor="middle">2</text>
<text transform="translate(818.5,645.4) scale(1,1.03)" text-anchor="middle">3</text>
<text transform="translate(889.5,645.4) scale(1,1.03)" text-anchor="middle">4</text>
<text transform="translate(960.5,645.4) scale(1,1.03)" text-anchor="middle">5</text>
<text x="295.5" y="679" text-anchor="middle" font-family="Liberation Serif, serif">θ/π</text>
<text x="783" y="679" text-anchor="middle" font-family="Liberation Serif, serif">θ/π</text>
<text transform="translate(21.8,182.8) rotate(-90)" x="0" y="0">W<tspan dy="8.2">N</tspan><tspan dy="5.3">r</tspan></text>
<text transform="translate(512.5,185.1) rotate(-90)" x="0" y="0">W<tspan dy="8.2">N</tspan><tspan dy="5.6" font-family="Liberation Serif, serif">ϕ</tspan></text>
<text transform="translate(28.7,479.7) rotate(-90)" x="0" y="0">W<tspan dy="8.2">f</tspan><tspan dy="5.3">r</tspan></text>
<text transform="translate(517.9,484.9) rotate(-90)" x="0" y="0">W<tspan dy="8.2">f</tspan><tspan dy="5.6" font-family="Liberation Serif, serif">ϕ</tspan></text>
<text x="139" y="291.6">(a)</text>
<text x="622.5" y="290">(b)</text>
<text x="139" y="595">(c)</text>
<text x="622.4" y="596.4">(d)</text>
<path d="M331.2,357.8 H383" stroke="#000" stroke-width="3.6" fill="none" stroke-linecap="round"/>
<text transform="translate(389.5,365.8) scale(1,1.12)" font-size="22"><tspan font-family="Liberation Serif, serif">μ</tspan>=0</text>
<path d="M331.2,389.1 H383" stroke="#ff0000" stroke-width="3.6" fill="none" stroke-linecap="round" stroke-dasharray="0 5.96"/>
<text transform="translate(389.5,397.1) scale(1,1.12)" font-size="22"><tspan font-family="Liberation Serif, serif">μ</tspan>=0.05</text>
<path d="M331.2,420.3 H383" stroke="#0000ff" stroke-width="3.5" fill="none" stroke-linecap="round" stroke-dasharray="0 13.7"/>
<text transform="translate(389.5,428.3) scale(1,1.12)" font-size="22"><tspan font-family="Liberation Serif, serif">μ</tspan>=0.1</text>
<path d="M331.2,451.2 H383" stroke="#ff00ff" stroke-width="3.6" fill="none" stroke-linecap="round" stroke-dasharray="10.1 9.15 0 9.35"/>
<text transform="translate(389.5,459.2) scale(1,1.12)" font-size="22"><tspan font-family="Liberation Serif, serif">μ</tspan>=0.15</text>
<path d="M331.2,482.4 H383" stroke="#008000" stroke-width="3.6" fill="none" stroke-linecap="round" stroke-dasharray="7 8.85 0 8.8 0 9.6"/>
<text transform="translate(389.5,490.4) scale(1,1.12)" font-size="22"><tspan font-family="Liberation Serif, serif">μ</tspan>=0.2</text>
<path d="M331.2,513.8 H383" stroke="#000080" stroke-width="3.6" fill="none" stroke-linecap="round" stroke-dasharray="1.2 8.9"/>
<text transform="translate(389.5,521.8) scale(1,1.12)" font-size="22"><tspan font-family="Liberation Serif, serif">μ</tspan>=0.25</text>
</svg>
</body></html>
